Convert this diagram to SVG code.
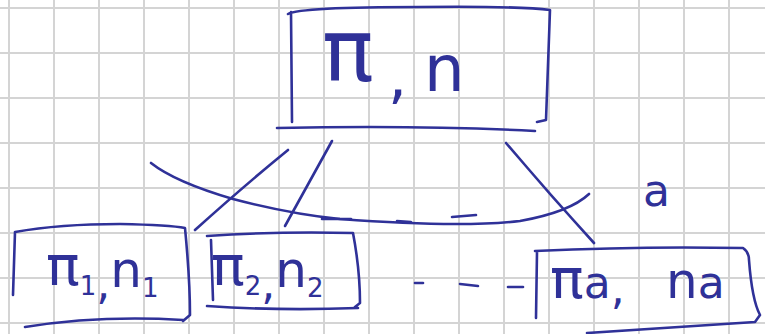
<svg xmlns="http://www.w3.org/2000/svg" width="765" height="334" viewBox="0 0 765 334">
<defs>
<style>
.grid line{stroke:#d4d4d4;stroke-width:2}
.ink{fill:none;stroke:#2f3198;stroke-width:2.6;stroke-linecap:round;stroke-linejoin:round}
.lbl{font-family:"DejaVu Sans","Liberation Sans",sans-serif;fill:#2f3198}
.sub{font-size:26px}
</style>
</defs>
<rect width="765" height="334" fill="#ffffff"/>
<g class="grid">
<line x1="9" y1="0" x2="9" y2="334"/><line x1="54" y1="0" x2="54" y2="334"/><line x1="99" y1="0" x2="99" y2="334"/><line x1="144" y1="0" x2="144" y2="334"/><line x1="189" y1="0" x2="189" y2="334"/><line x1="234" y1="0" x2="234" y2="334"/><line x1="279" y1="0" x2="279" y2="334"/><line x1="324" y1="0" x2="324" y2="334"/><line x1="369" y1="0" x2="369" y2="334"/><line x1="414" y1="0" x2="414" y2="334"/><line x1="459" y1="0" x2="459" y2="334"/><line x1="504" y1="0" x2="504" y2="334"/><line x1="549" y1="0" x2="549" y2="334"/><line x1="594" y1="0" x2="594" y2="334"/><line x1="639" y1="0" x2="639" y2="334"/><line x1="684" y1="0" x2="684" y2="334"/><line x1="729" y1="0" x2="729" y2="334"/>
<line x1="0" y1="8" x2="765" y2="8"/><line x1="0" y1="53" x2="765" y2="53"/><line x1="0" y1="98" x2="765" y2="98"/><line x1="0" y1="143" x2="765" y2="143"/><line x1="0" y1="188" x2="765" y2="188"/><line x1="0" y1="233" x2="765" y2="233"/><line x1="0" y1="278" x2="765" y2="278"/><line x1="0" y1="323" x2="765" y2="323"/>
</g>
<g id="connectors" class="ink">
<path d="M288,150 Q245,185 195,230"/>
<path d="M332,141 Q305,190 285,226"/>
<path d="M506,143 Q550,195 594,243"/>
<path d="M151,163 Q175,182 233,199 Q290,214 340,219 Q460,228 520,221 Q570,212 589,194"/>
<path d="M322,219 L351,219"/>
<path d="M397,221 L411,222"/>
<path d="M452,217 L476,215"/>
<path d="M415,283 L423,283"/>
<path d="M460,284 L478,286"/>
<path d="M508,287 L523,287"/>
</g>
<text class="lbl" x="643" y="206" font-size="44">a</text>
<g id="root">
<path class="ink" d="M288,14 Q300,7 420,7 Q520,6 550,10 L546,120 L537,122 M291,12 L292,122 M277,128 Q420,125 535,131"/>
<text class="lbl" y="81"><tspan x="322" font-size="86">π</tspan><tspan x="388" font-size="60" dy="16">,</tspan><tspan font-size="64" x="424" dy="-6">n</tspan></text>
</g>
<g id="child1">
<path class="ink" d="M15,232 Q60,224 120,224 Q170,225 185,228 Q190,280 190,315 L183,321 M15,232 L13,295 M25,327 Q100,315 183,320"/>
<text class="lbl" x="46" y="285" font-size="56">π<tspan class="sub" dy="10">1</tspan><tspan font-size="44" dy="4">,</tspan><tspan font-size="50" dy="-12">n</tspan><tspan class="sub" dy="10">1</tspan></text>
</g>
<g id="child2">
<path class="ink" d="M207,236 Q280,231 353,233 Q360,270 360,303 L355,307 M211,240 L213,300 M207,306 Q280,311 358,308"/>
<text class="lbl" x="211" y="285" font-size="56">π<tspan class="sub" dy="10">2</tspan><tspan font-size="44" dy="4">,</tspan><tspan font-size="50" dy="-12">n</tspan><tspan class="sub" dy="10">2</tspan></text>
</g>
<g id="childa">
<path class="ink" d="M535,251 Q640,246 743,248 Q749,252 749,260 Q752,300 760,315 L755,322 M537,252 L536,318 M587,333 Q680,327 755,322"/>
<text class="lbl" y="298"><tspan x="550" font-size="56">π</tspan><tspan font-size="44">a</tspan><tspan font-size="44" dy="6">,</tspan><tspan font-size="50" x="666" dy="-6">n</tspan><tspan font-size="44">a</tspan></text>
</g>
</svg>
